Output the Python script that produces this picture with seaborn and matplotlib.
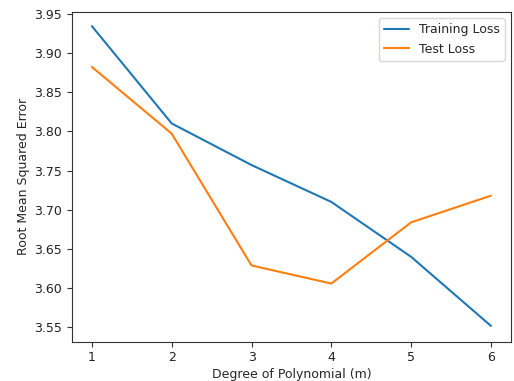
import matplotlib
matplotlib.use("Agg")
import matplotlib.pyplot as plt
import seaborn as sns
import pandas as pd

degrees = [1, 2, 3, 4, 5, 6]
training_loss = [3.934, 3.810, 3.757, 3.710, 3.640, 3.552]
test_loss = [3.882, 3.797, 3.629, 3.606, 3.684, 3.718]
yticks = [3.55, 3.60, 3.65, 3.70, 3.75, 3.80, 3.85, 3.90, 3.95]

sns.set_style("ticks")
plt.rcParams['font.family'] = ['DejaVu Sans']
plt.rcParams['font.size'] = 9

df = pd.DataFrame({
    "Degree": degrees * 2,
    "RMSE": training_loss + test_loss,
    "Series": ["Training Loss"] * len(degrees) + ["Test Loss"] * len(degrees),
})

fig = plt.figure(figsize=(5.14, 3.81), dpi=100)
ax = fig.add_axes([0.140, 0.1034, 0.854, 0.865])
sns.lineplot(data=df, x="Degree", y="RMSE", hue="Series",
             palette=["#1f77b4", "#ff7f0e"], ax=ax, linewidth=1.5)
ax.set_xlim(0.75, 6.25)
ax.set_ylim(3.532, 3.952)
ax.set_xticks(degrees)
ax.set_yticks(yticks)
ax.set_yticklabels([f"{v:.2f}" for v in yticks])
ax.tick_params(labelsize=9, colors="#333333", labelcolor="#222222")
ax.set_xlabel("Degree of Polynomial (m)", fontsize=9, labelpad=3)
ax.set_ylabel("Root Mean Squared Error", fontsize=9, labelpad=3)
for s in ax.spines.values():
    s.set_visible(True)
    s.set_color("#333333")
leg = ax.legend(loc="upper right", frameon=True, fontsize=9)
fig.savefig("out.png", dpi=100)
